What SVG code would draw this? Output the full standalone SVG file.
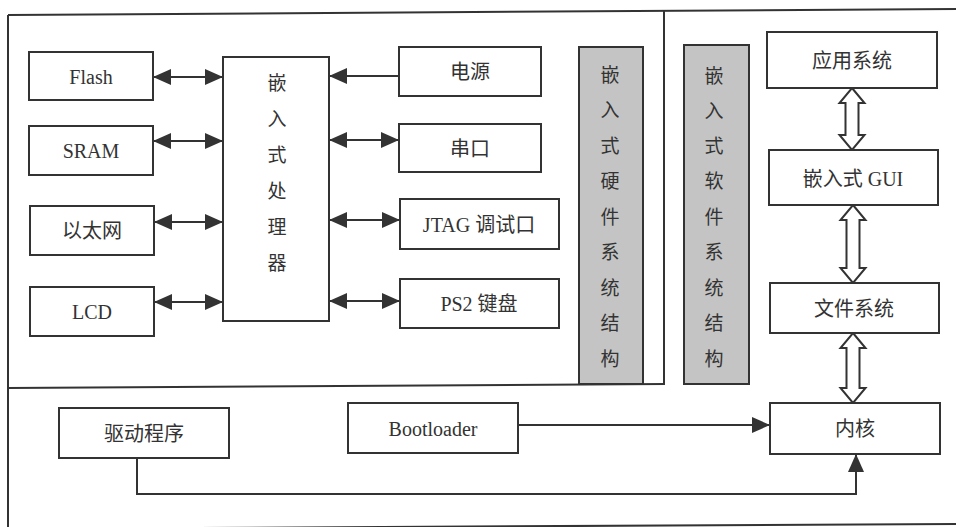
<svg xmlns="http://www.w3.org/2000/svg" width="956" height="527" viewBox="0 0 956 527">
<style>
.box{fill:#fff;stroke:#333;stroke-width:2}
.bar{fill:#c4c4c4;stroke:#333;stroke-width:2}
.frame{fill:none;stroke:#333;stroke-width:2}
.ln{fill:none;stroke:#333;stroke-width:2}
.hol{fill:#fff;stroke:#333;stroke-width:2;stroke-linejoin:miter}
text{font-family:"Liberation Serif","Noto Sans CJK SC",serif;font-size:20px;fill:#333;text-anchor:middle;dominant-baseline:central}
.v{font-size:19px}
</style>
<defs>
<marker id="ah" markerUnits="userSpaceOnUse" markerWidth="18" markerHeight="16" refX="18" refY="8" orient="auto-start-reverse">
<path d="M0,0 L18,8 L0,16 Z" fill="#333"/>
</marker>
</defs>
<rect width="956" height="527" fill="#fff"/>
<g id="frame">
<line class="frame" x1="8" y1="15" x2="956" y2="9"/>
<line class="frame" x1="8" y1="15" x2="8" y2="527"/>
<line class="frame" x1="8" y1="529" x2="956" y2="524"/>
<line class="frame" x1="8" y1="388" x2="665" y2="384"/>
<line class="frame" x1="664" y1="11" x2="664" y2="384"/>
</g>
<g id="connectors">
<line class="ln" x1="153" y1="77" x2="223" y2="77" marker-start="url(#ah)" marker-end="url(#ah)"/>
<line class="ln" x1="153" y1="141" x2="223" y2="141" marker-start="url(#ah)" marker-end="url(#ah)"/>
<line class="ln" x1="154" y1="222" x2="223" y2="222" marker-start="url(#ah)" marker-end="url(#ah)"/>
<line class="ln" x1="154" y1="302" x2="223" y2="302" marker-start="url(#ah)" marker-end="url(#ah)"/>
<line class="ln" x1="399" y1="76" x2="329" y2="76" marker-end="url(#ah)"/>
<line class="ln" x1="329" y1="140" x2="399" y2="140" marker-start="url(#ah)" marker-end="url(#ah)"/>
<line class="ln" x1="329" y1="220" x2="400" y2="220" marker-start="url(#ah)" marker-end="url(#ah)"/>
<line class="ln" x1="329" y1="301" x2="400" y2="301" marker-start="url(#ah)" marker-end="url(#ah)"/>
<path class="hol" d="M852,88 L864.5,103 L858.5,103 L858.5,135 L864.5,135 L852,150 L839.5,135 L845.5,135 L845.5,103 L839.5,103 Z"/>
<path class="hol" d="M853,205 L865.5,220 L859.5,220 L859.5,268 L865.5,268 L853,283 L840.5,268 L846.5,268 L846.5,220 L840.5,220 Z"/>
<path class="hol" d="M853,333 L865.5,348 L859.5,348 L859.5,388 L865.5,388 L853,403 L840.5,388 L846.5,388 L846.5,348 L840.5,348 Z"/>
<line class="ln" x1="518" y1="425" x2="770" y2="425" marker-end="url(#ah)"/>
<path class="ln" d="M137,458 L137,494 L856,494 L856,454" marker-end="url(#ah)"/>
</g>
<g id="flash"><rect class="box" x="29" y="52" width="124" height="48"/><text x="91" y="77">Flash</text></g>
<g id="sram"><rect class="box" x="29" y="126" width="124" height="49"/><text x="91" y="151">SRAM</text></g>
<g id="ethernet"><rect class="box" x="30" y="206" width="124" height="49"/><text x="92" y="231">以太网</text></g>
<g id="lcd"><rect class="box" x="30" y="287" width="124" height="49"/><text x="92" y="312">LCD</text></g>
<g id="cpu"><rect class="box" x="223" y="57" width="106" height="264"/>
<text class="v" x="277" y="83">嵌</text><text class="v" x="277" y="119">入</text><text class="v" x="277" y="155">式</text><text class="v" x="277" y="191">处</text><text class="v" x="277" y="227">理</text><text class="v" x="277" y="263">器</text></g>
<g id="power"><rect class="box" x="399" y="47" width="142" height="49"/><text x="470" y="72">电源</text></g>
<g id="serial"><rect class="box" x="399" y="124" width="142" height="48"/><text x="470" y="149">串口</text></g>
<g id="jtag"><rect class="box" x="400" y="199" width="159" height="50"/><text x="479" y="225">JTAG 调试口</text></g>
<g id="ps2"><rect class="box" x="400" y="279" width="159" height="49"/><text x="479" y="304">PS2 键盘</text></g>
<g id="hw-bar"><rect class="bar" x="579" y="47" width="64" height="337"/>
<text class="v" x="610" y="75">嵌</text><text class="v" x="610" y="110.5">入</text><text class="v" x="610" y="146">式</text><text class="v" x="610" y="181.5">硬</text><text class="v" x="610" y="217">件</text><text class="v" x="610" y="252.5">系</text><text class="v" x="610" y="288">统</text><text class="v" x="610" y="323.5">结</text><text class="v" x="610" y="359">构</text></g>
<g id="sw-bar"><rect class="bar" x="684" y="45" width="65" height="339"/>
<text class="v" x="714" y="76">嵌</text><text class="v" x="714" y="111">入</text><text class="v" x="714" y="146">式</text><text class="v" x="714" y="181.5">软</text><text class="v" x="714" y="217">件</text><text class="v" x="714" y="252.5">系</text><text class="v" x="714" y="288">统</text><text class="v" x="714" y="323.5">结</text><text class="v" x="714" y="359">构</text></g>
<g id="app"><rect class="box" x="767" y="32" width="170" height="56"/><text x="852" y="61">应用系统</text></g>
<g id="gui"><rect class="box" x="769" y="150" width="169" height="55"/><text x="853" y="179">嵌入式 GUI</text></g>
<g id="fs"><rect class="box" x="770" y="283" width="169" height="50"/><text x="854" y="309">文件系统</text></g>
<g id="kernel"><rect class="box" x="770" y="403" width="170" height="51"/><text x="855" y="429">内核</text></g>
<g id="driver"><rect class="box" x="59" y="408" width="170" height="50"/><text x="144" y="434">驱动程序</text></g>
<g id="bootloader"><rect class="box" x="348" y="403" width="170" height="50"/><text x="433" y="429">Bootloader</text></g>
</svg>
